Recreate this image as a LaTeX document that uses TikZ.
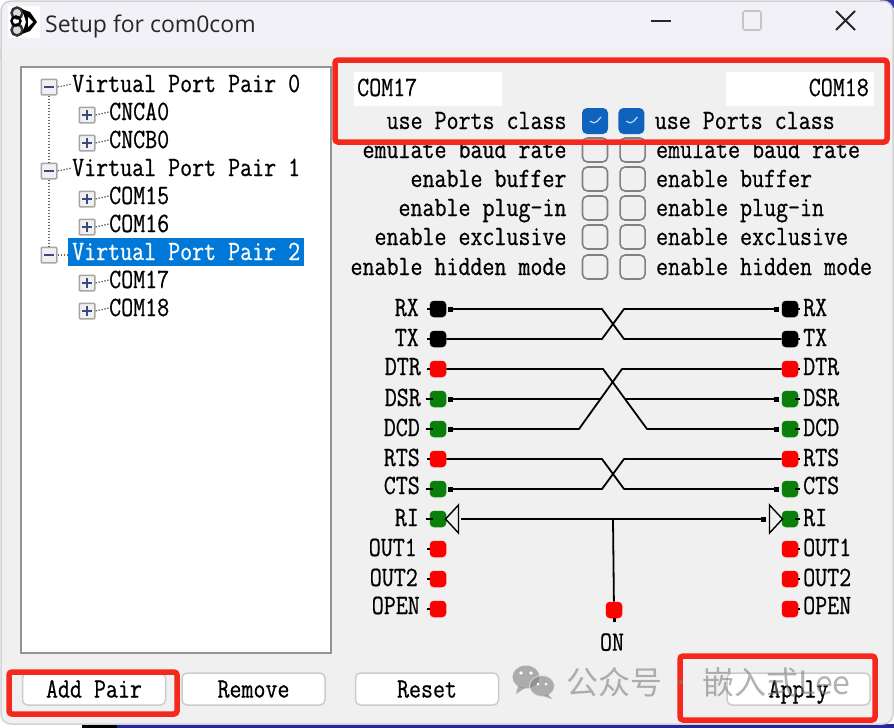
\documentclass[tikz,border=0pt]{standalone}
\usepackage{fontspec}
\usepackage{xcolor}
\usepackage{tikz}
\usetikzlibrary{arrows.meta, positioning, shapes.geometric}
\setmainfont{Liberation Sans}
\newfontfamily\pixfont[FakeStretch=0.835,FakeBold=0.6]{Latin Modern Mono}
\newfontfamily\uifont{Open Sans}
\newfontfamily\cjkfont{Noto Sans CJK SC}
\definecolor{winbg}{HTML}{F0F0F0}
\definecolor{titlebg}{HTML}{F3F1F8}
\definecolor{markred}{HTML}{F5281E}
\definecolor{selblue}{HTML}{0078D7}
\definecolor{checkblue}{HTML}{0F62BE}
\definecolor{ledgreen}{HTML}{0A7F0A}
\definecolor{navy}{HTML}{3A4A80}

\begin{document}
\begin{tikzpicture}[
    x=1pt, y=-1pt,
    pixtext/.style={
        font=\pixfont\fontsize{27.9}{28}\selectfont, inner sep=0pt,
        text height=16pt, text depth=0pt
    },
    treebox/.style={
        rectangle, draw=gray!85, line width=1.5pt, fill=white,
        minimum width=310pt, minimum height=586pt, inner sep=0pt
    },
    expander/.style={
        rectangle, rounded corners=1pt, draw=gray!70, line width=1.5pt,
        fill=winbg, minimum size=15.5pt, inner sep=0pt
    },
    minusbox/.style={expander, path picture={
        \draw[navy, line width=1.6pt] ([xshift=3pt]path picture bounding box.west)
            -- ([xshift=-3pt]path picture bounding box.east);}},
    plusbox/.style={expander, path picture={
        \draw[navy, line width=1.6pt] ([xshift=3pt]path picture bounding box.west)
            -- ([xshift=-3pt]path picture bounding box.east);
        \draw[navy, line width=1.6pt] ([yshift=-3pt]path picture bounding box.north)
            -- ([yshift=3pt]path picture bounding box.south);}},
    treeline/.style={gray!80!black, line width=1.2pt, dash pattern=on 1.5pt off 1.5pt},
    editbox/.style={
        rectangle, fill=white, minimum width=148pt, minimum height=34pt,
        inner sep=3pt
    },
    checkoff/.style={
        rectangle, rounded corners=5pt, draw=gray, line width=1.6pt,
        minimum width=25pt, minimum height=24pt, inner sep=0pt
    },
    checkon/.style={
        rectangle, rounded corners=5pt, fill=checkblue,
        minimum width=26pt, minimum height=26pt, inner sep=0pt,
        path picture={
            \draw[white!75!checkblue, line width=1.2pt]
                ([shift={(-5pt,0pt)}]path picture bounding box.center)
                -- ([shift={(-1pt,-4pt)}]path picture bounding box.center)
                -- ([shift={(6pt,4pt)}]path picture bounding box.center);}
    },
    port/.style={
        rectangle, rounded corners=4pt, minimum size=16.5pt, inner sep=0pt
    },
    stub/.style={draw=black, line width=1.3pt},
    pl/.style={port, append after command={(\tikzlastnode.west) edge[stub] +(-3pt,0pt)}},
    pr/.style={port, append after command={(\tikzlastnode.east) edge[stub] +(2pt,0pt)}},
    plgreen/.style={port, fill=ledgreen, append after command={([xshift=3pt]\tikzlastnode.west) edge[stub, line width=1.8pt] +(-7pt,0pt)}},
    prgreen/.style={port, fill=ledgreen, append after command={([xshift=-3pt]\tikzlastnode.east) edge[stub, line width=1.8pt] +(5pt,0pt)}},
    wire/.style={black, line width=1.8pt, line join=round},
    srcdot/.style={{Square[length=5pt,width=5pt]}-, shorten <=2pt},
    dstdot/.style={-{Square[length=5pt,width=5pt]}, shorten >=3pt},
    tri/.style={
        isosceles triangle, isosceles triangle stretches, draw=black, line width=1.4pt,
        minimum width=28pt, minimum height=13pt, inner sep=0pt
    },
    btn/.style={
        rectangle, rounded corners=5pt, draw=gray!40, line width=1.5pt, fill=white,
        minimum width=143pt, minimum height=32pt, inner sep=0pt,
        font=\pixfont\fontsize{27.9}{28}\selectfont, text height=17pt, text depth=0pt
    },
    markbox/.style={draw=markred, line width=5.5pt, rounded corners=3pt},
    capbtn/.style={line width=1.8pt, black!85}
]
\useasboundingbox (0,0) rectangle (894,728);

% Window
\fill[white] (0,0) rectangle (894,728);
\fill[blue!60!black!80] (880,0) rectangle (894,8);
\fill[black] (82,724) rectangle (117,728);
\fill[blue!55!black!85] (117,724) rectangle (894,728);
\draw[gray!35, line width=1.5pt, fill=titlebg, rounded corners=10pt] (1,60) -- (1,1) -- (893,1) -- (893,60);
\fill[winbg] (1,48) -- (893,48) [rounded corners=10pt] -- (893,724) -- (1,724) [sharp corners] -- cycle;
\draw[gray!35, line width=1.5pt, rounded corners=10pt] (1,48) -- (1,724) -- (893,724) -- (893,48);

% Title bar
\fill[white] (8,6) rectangle (40,38);
\draw[black!80, line width=2.5pt, fill=gray!30] (17,13) circle[radius=5.5] (17,30) circle[radius=5.5];
\draw[black, line width=2.5pt] (16,21) circle[radius=4.5];
\fill[black] (22,9) -- (30,12) -- (37,22) -- (30,31) -- (22,34) -- (26,22) -- cycle;
\fill[white] (28,17) -- (33,22) -- (28,27) -- cycle;
\node[font=\uifont\fontsize{23}{24}\selectfont, text=black!85, inner sep=0pt, anchor=west] (title) at (45,26) {Setup for com0com};
\draw[capbtn] (651,21) -- (671,21);
\draw[gray!45, line width=1.6pt, rounded corners=2pt] (743,11) rectangle (761,30);
\draw[capbtn] (836,11) -- (855,30) (855,11) -- (836,30);

% Port tree
\node[treebox] (tree) at (176,360) {};
\fill[selblue] (68,238) rectangle (304,266);
\node[minusbox] (m0) at (49,87) {};
\node[minusbox] (m1) at (49,171) {};
\node[minusbox] (m2) at (49,255) {};
\node[plusbox] (x0a) at (87,115) {};
\node[plusbox] (x0b) at (87,143) {};
\node[plusbox] (x1a) at (87,199) {};
\node[plusbox] (x1b) at (87,227) {};
\node[plusbox] (x2a) at (87,283) {};
\node[plusbox] (x2b) at (87,311) {};
\node[pixtext, anchor=west] (t0) at (72,84) {Virtual Port Pair 0};
\node[pixtext, anchor=west] (t1) at (72,168) {Virtual Port Pair 1};
\node[pixtext, anchor=west, text=white] (t2) at (72,252) {Virtual Port Pair 2};
\node[pixtext, anchor=west] (c0a) at (109,112) {CNCA0};
\node[pixtext, anchor=west] (c0b) at (109,140) {CNCB0};
\node[pixtext, anchor=west] (c1a) at (109,196) {COM15};
\node[pixtext, anchor=west] (c1b) at (109,224) {COM16};
\node[pixtext, anchor=west] (c2a) at (109,280) {COM17};
\node[pixtext, anchor=west] (c2b) at (109,308) {COM18};

% Tree dots
\draw[treeline] (m0) -- (m1);
\draw[treeline] (m1) -- (m2);
\draw[treeline] (m0.east) -- (t0.west);
\draw[treeline] (m1.east) -- (t1.west);
\draw[treeline] (m2.east) -- (68,255);
\draw[treeline] (x0a.east) -- (c0a.west);
\draw[treeline] (x0b.east) -- (c0b.west);
\draw[treeline] (x1a.east) -- (c1a.west);
\draw[treeline] (x1b.east) -- (c1b.west);
\draw[treeline] (x2a.east) -- (c2a.west);
\draw[treeline] (x2b.east) -- (c2b.west);

% Port names
\node[editbox] (nameL) at (428,89) {};
\node[editbox] (nameR) at (800,89) {};
\node[pixtext, anchor=west] (comL) at (357,88) {COM17};
\node[pixtext, anchor=east] (comR) at (869,88) {COM18};

% Option rows
\node[checkon] (useL) at (595,121) {};
\node[checkon, right=10pt of useL] (useR) {};
\node[checkoff] (baudL) at (595,150) {};
\node[checkoff, right=11pt of baudL] (baudR) {};
\node[checkoff] (bufL) at (595,179) {};
\node[checkoff, right=11pt of bufL] (bufR) {};
\node[checkoff] (plugL) at (595,208) {};
\node[checkoff, right=11pt of plugL] (plugR) {};
\node[checkoff] (exclL) at (595,237) {};
\node[checkoff, right=11pt of exclL] (exclR) {};
\node[checkoff] (hidL) at (595,267) {};
\node[checkoff, right=11pt of hidL] (hidR) {};
\node[pixtext, left=15pt of useL] (useLt) {use Ports class};
\node[pixtext, right=10pt of useR] (useRt) {use Ports class};
\node[pixtext, left=15pt of baudL] (baudLt) {emulate baud rate};
\node[pixtext, right=10pt of baudR] (baudRt) {emulate baud rate};
\node[pixtext, left=15pt of bufL] (bufLt) {enable buffer};
\node[pixtext, right=10pt of bufR] (bufRt) {enable buffer};
\node[pixtext, left=15pt of plugL] (plugLt) {enable plug-in};
\node[pixtext, right=10pt of plugR] (plugRt) {enable plug-in};
\node[pixtext, left=15pt of exclL] (exclLt) {enable exclusive};
\node[pixtext, right=10pt of exclR] (exclRt) {enable exclusive};
\node[pixtext, left=15pt of hidL] (hidLt) {enable hidden mode};
\node[pixtext, right=10pt of hidR] (hidRt) {enable hidden mode};

% Ports, left side
\node[pl, fill=black] (rxL) at (438,309) {};
\node[pl, fill=black] (txL) at (438,339) {};
\node[pl, fill=red] (dtrL) at (438,369) {};
\node[plgreen] (dsrL) at (438,399) {};
\node[plgreen] (dcdL) at (438,429) {};
\node[pl, fill=red] (rtsL) at (438,459) {};
\node[plgreen] (ctsL) at (438,489) {};
\node[plgreen] (riL) at (438,519) {};
\node[pl, fill=red] (out1L) at (438,549) {};
\node[pl, fill=red] (out2L) at (438,579) {};
\node[pl, fill=red] (openL) at (438,609) {};

% Ports, right side
\node[pr, fill=black] (rxR) at (790,309) {};
\node[pr, fill=black] (txR) at (790,339) {};
\node[pr, fill=red] (dtrR) at (790,369) {};
\node[prgreen] (dsrR) at (790,399) {};
\node[prgreen] (dcdR) at (790,429) {};
\node[pr, fill=red] (rtsR) at (790,459) {};
\node[prgreen] (ctsR) at (790,489) {};
\node[prgreen] (riR) at (790,519) {};
\node[pr, fill=red] (out1R) at (790,549) {};
\node[pr, fill=red] (out2R) at (790,579) {};
\node[pr, fill=red] (openR) at (790,609) {};
\node[port, fill=red] (on) at (614,610) {};

% Signal names
\node[pixtext, anchor=east] (rxLt) at (419,308) {RX};
\node[pixtext, anchor=east] (txLt) at (419,338) {TX};
\node[pixtext, anchor=east] (dtrLt) at (421,367) {DTR};
\node[pixtext, anchor=east] (dsrLt) at (421,398) {DSR};
\node[pixtext, anchor=east] (dcdLt) at (420,428) {DCD};
\node[pixtext, anchor=east] (rtsLt) at (420,458) {RTS};
\node[pixtext, anchor=east] (ctsLt) at (420,486) {CTS};
\node[pixtext, anchor=east] (riLt) at (419,518) {RI};
\node[pixtext, anchor=east] (out1Lt) at (417,548) {OUT1};
\node[pixtext, anchor=east] (out2Lt) at (418,578) {OUT2};
\node[pixtext, anchor=east] (openLt) at (420,606) {OPEN};
\node[pixtext, anchor=west] (rxRt) at (803,308) {RX};
\node[pixtext, anchor=west] (txRt) at (803,338) {TX};
\node[pixtext, anchor=west] (dtrRt) at (803,367) {DTR};
\node[pixtext, anchor=west] (dsrRt) at (803,398) {DSR};
\node[pixtext, anchor=west] (dcdRt) at (803,428) {DCD};
\node[pixtext, anchor=west] (rtsRt) at (803,458) {RTS};
\node[pixtext, anchor=west] (ctsRt) at (803,486) {CTS};
\node[pixtext, anchor=west] (riRt) at (803,518) {RI};
\node[pixtext, anchor=west] (out1Rt) at (803,548) {OUT1};
\node[pixtext, anchor=west] (out2Rt) at (803,578) {OUT2};
\node[pixtext, anchor=west] (openRt) at (803,606) {OPEN};
\node[pixtext, below=16pt of on, xshift=-2pt] (onLabel) {ON};

% Crossed wires
\draw[wire, srcdot] (rxL) -- (602,309) -- (624,339) -- (txR);
\draw[wire, dstdot] (txL) -- (602,339) -- (624,309) -- (rxR);
\draw[wire, dstdot] (dtrL) -- (603,369) -- (647,429) -- (dcdR);
\draw[wire, srcdot] (dcdL) -- (579,429) -- (622,369) -- (dtrR);
\coordinate (dsrMidL) at (600,399);
\coordinate (dsrMidR) at (626,399);
\draw[wire, srcdot] (dsrL) -- (dsrMidL);
\draw[wire, dstdot] (dsrMidR) -- (dsrR);
\draw[wire, dstdot] (rtsL) -- (602,459) -- (624,489) -- (ctsR);
\draw[wire, srcdot] (ctsL) -- (602,489) -- (624,459) -- (rtsR);

% Ring indicator and ON
\node[tri, shape border rotate=180] (triL) at (453,519) {};
\node[tri] (triR) at (775,519) {};
\draw[wire, srcdot, dstdot] (triL.east) -- (triR.west);
\coordinate (riJoin) at (613,519);
\draw[wire] (riJoin) -- (on);
\draw[stub, line width=3pt] (on.south) -- ++(0,4);

% Buttons
\node[btn] (addBtn) at (94,689) {Add Pair};
\node[btn, right=15pt of addBtn] (removeBtn) {Remove};
\node[btn, right=29pt of removeBtn] (resetBtn) {Reset};
\node[btn, right=227pt of resetBtn] (applyBtn) {Apply};

% Red marks
\draw[markbox] (335,60) rectangle (887,142);
\draw[markbox] (9,672) rectangle (177,714);
\draw[markbox] (680,656) rectangle (875,720);

% Watermark
\begin{scope}[opacity=0.6]
\fill[gray] (526,677) ellipse[x radius=13.5, y radius=11.5];
\fill[gray] (518,686) -- (516,694) -- (525,688) -- cycle;
\fill[gray, draw=winbg, line width=1pt] (542,686) ellipse[x radius=12.5, y radius=10.5];
\fill[gray] (548,694) -- (552,699) -- (543,696) -- cycle;
\node[text=gray, font=\cjkfont\fontsize{32}{33}\selectfont, inner sep=0pt, anchor=west] (wmA) at (566,682) {公众号};
\node[text=gray, font=\cjkfont\fontsize{32}{33}\selectfont, inner sep=0pt, anchor=west] (wmB) at (702,682) {嵌入式Lee};
\fill[gray] (681,682) circle[radius=2];
\end{scope}
\fill[white] (521,673) circle[radius=1.8] (531,673) circle[radius=1.8];
\fill[white] (538,684) circle[radius=1.5] (546,684) circle[radius=1.5];
\end{tikzpicture}
\end{document}
